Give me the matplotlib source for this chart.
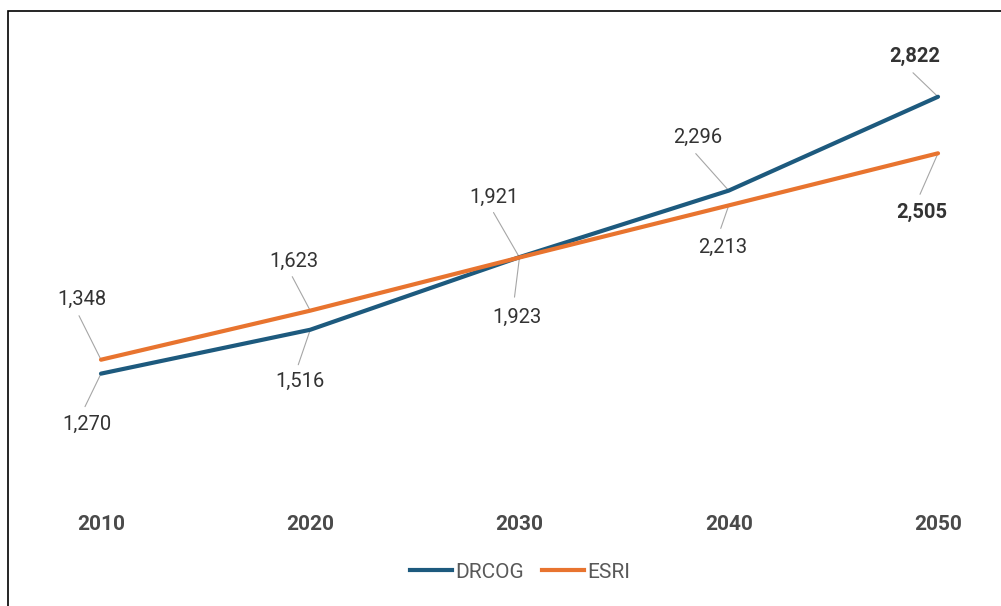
import matplotlib
matplotlib.use("Agg")
import matplotlib.pyplot as plt
from matplotlib.patches import Rectangle
from matplotlib.lines import Line2D

years = [2010, 2020, 2030, 2040, 2050]
drcog = [1270, 1516, 1923, 2296, 2822]
esri = [1348, 1623, 1921, 2213, 2505]
series_names = ["DRCOG", "ESRI"]

W, H = 1001, 606
fig = plt.figure(figsize=(W / 100, H / 100), dpi=100)
fig.patch.set_facecolor("white")

# axes placement in pixels
ax_left_px, ax_right_px = 60, 980
ax_top_px, ax_bot_px = 65, 511
ax = fig.add_axes([ax_left_px / W, 1 - ax_bot_px / H,
                   (ax_right_px - ax_left_px) / W, (ax_bot_px - ax_top_px) / H])
pxyr = (938 - 101) / 40
ax.set_xlim(2010 - (101 - ax_left_px) / pxyr, 2050 + (ax_right_px - 938) / pxyr)
ax.set_ylim(500, 3000)

font = ["Roboto", "DejaVu Sans"]
c_blue = "#1D5A7E"
c_orange = "#E8742F"
lab_col = "#333333"

ax.plot(years, drcog, color=c_blue, lw=3.0, solid_capstyle="round", zorder=3)
ax.plot(years, esri, color=c_orange, lw=3.0, solid_capstyle="round", zorder=3)

for s in ax.spines.values():
    s.set_visible(False)
ax.set_yticks([])
ax.set_xticks(years)
ax.set_xticklabels([str(y) for y in years], fontsize=15, fontweight="bold",
                   color="#4A4A4A", family=font)
ax.tick_params(axis="x", length=0, pad=3)

# label centre offsets and leader start offsets, in pixels (up positive)
drcog_lab = [(-14, -51), (-10, -52), (-3, -60), (-31, 53), (-23, 40)]
drcog_lead = [(-16, -33), (-12, -35), (-5, -40), (-33, 37), (-25, 24)]
esri_lab = [(-19, 60), (-16, 49), (-25, 60), (-6, -42), (-16, -59)]
esri_lead = [(-22, 44), (-18, 34), (-26, 45), (-8, -23), (-18, -41)]

for series, labs, leads in ((drcog, drcog_lab, drcog_lead), (esri, esri_lab, esri_lead)):
    for i, (x, v) in enumerate(zip(years, series)):
        bold = (i == 4)
        ax.annotate("", xy=(x, v), xytext=leads[i], textcoords="offset pixels",
                    arrowprops=dict(arrowstyle="-", color="#A6A6A6", lw=0.8,
                                    shrinkA=0, shrinkB=0), zorder=2)
        ax.annotate(f"{v:,}", xy=(x, v), xytext=labs[i], textcoords="offset pixels",
                    ha="center", va="center", fontsize=14.5, color=lab_col, family=font,
                    fontweight="bold" if bold else "normal")

handles = [Line2D([], [], color=c_blue, lw=3.0), Line2D([], [], color=c_orange, lw=3.0)]
fig.legend(handles, series_names, loc="center", bbox_to_anchor=(520 / W, 1 - 572 / H),
           ncol=2, frameon=False, handlelength=2.0, handletextpad=0.15,
           columnspacing=0.9, prop={"family": font, "size": 15},
           labelcolor="#595959")

# outer border (extends off right/bottom)
fig.patches.append(Rectangle((8 / W, -0.1), 1.2, 1 - 11 / H + 0.1,
                             transform=fig.transFigure, fill=False,
                             edgecolor="black", lw=1.2))

fig.savefig("out.png", dpi=100, facecolor="white")
